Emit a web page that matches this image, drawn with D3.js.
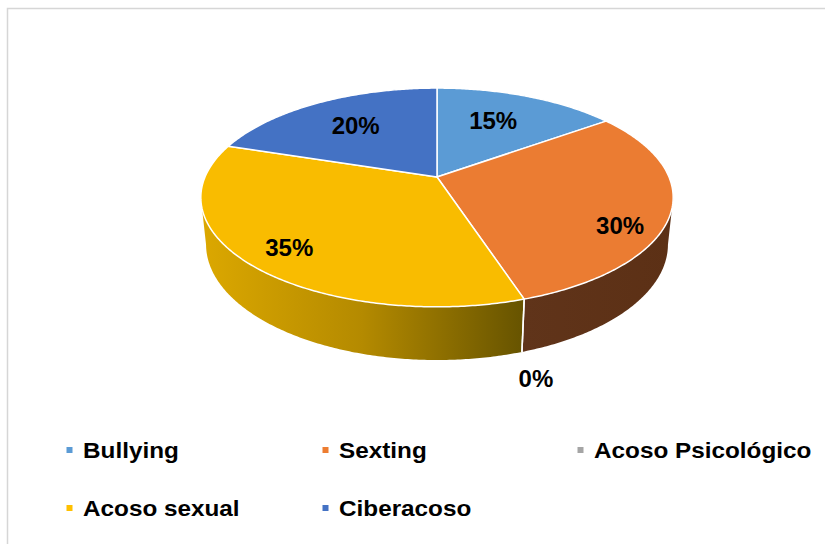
<!DOCTYPE html>
<html>
<head>
<meta charset="utf-8">
<script src="https://cdn.jsdelivr.net/npm/d3@7"></script>
<style>
  html, body { margin: 0; padding: 0; background: #ffffff; }
  svg { display: block; font-family: "Liberation Sans", Arial, sans-serif; }
</style>
</head>
<body>
<svg id="chart" width="825" height="544"></svg>
<script>
// ---- data ----
const categories = ["Bullying", "Sexting", "Acoso Psicológico", "Acoso sexual", "Ciberacoso"];
const percentages = [15, 30, 0, 35, 20];

// ---- styling ----
const topColors = ["#5B9BD5", "#EB7C32", "#A5A5A5", "#F9BC00", "#4472C4"];
const legendColors = ["#5B9BD5", "#ED7D31", "#A5A5A5", "#FFC000", "#4472C4"];
const wallStops = [
  ["#3f6f9a", "#2e5272"],
  ["#60341a", "#5c3015"],
  ["#7a7a7a", "#5a5a5a"],
  ["#dca800", "#b48a00", "#665300"],
  ["#30528c", "#243e6a"]
];
// label placement: radial fraction, depth (0 = top face, 1 = base), nudge
const labelLayout = [
  { r: 0.62, depth: 0, dx: -3, dy: -3.5 },
  { r: 0.80, depth: 0, dx: -2, dy: 20.5 },
  { r: 1.00, depth: 1, dx: 14, dy: 26 },
  { r: 0.80, depth: 0, dx: -1, dy: 4 },
  { r: 0.70, depth: 0, dx: 5, dy: 2 }
];

// ---- perspective view of the pie disc ----
const view = { cx: 437, cy: 177, S: 232, sinT: 0.455, cosT: 0.8905, k: 0.21, h: 0.2286 };

function project(a, r, Y) {
  const u = r * Math.sin(a), w = r * Math.cos(a);
  const z = 1 + view.k * (w * view.cosT - Y * view.sinT);
  return [view.cx + view.S * u / z, view.cy - view.S * (w * view.sinT + Y * view.cosT) / z];
}

function arcPoints(a0, a1, r, Y) {
  const n = Math.max(2, Math.ceil(Math.abs(a1 - a0) / 0.01));
  return d3.range(n + 1).map(i => project(a0 + (a1 - a0) * i / n, r, Y));
}

const svg = d3.select("#chart");
const defs = svg.append("defs");

// chart area frame
svg.append("rect")
  .attr("x", 7.5).attr("y", 8.5)
  .attr("width", 840).attr("height", 560)
  .attr("fill", "#ffffff")
  .attr("stroke", "#d6d6d6").attr("stroke-width", 1.5);

const pie = d3.pie().sort(null).value(d => d)(percentages);
const line = d3.line();

// side walls (only the front-facing part of the rim)
const visStart = Math.acos(-view.k * view.cosT);
const visEnd = 2 * Math.PI - visStart;
const wallG = svg.append("g");
pie.forEach((d, i) => {
  const a0 = Math.max(d.startAngle, visStart), a1 = Math.min(d.endAngle, visEnd);
  if (a1 - a0 <= 1e-6) return;
  const top = arcPoints(a0, a1, 1, 0);
  const bottom = arcPoints(a0, a1, 1, -view.h).reverse();
  const pts = top.concat(bottom);
  const xs = pts.map(p => p[0]);
  const gid = "wall" + i;
  const grad = defs.append("linearGradient").attr("id", gid)
    .attr("gradientUnits", "userSpaceOnUse")
    .attr("x1", d3.max(xs)).attr("x2", d3.min(xs)).attr("y1", 0).attr("y2", 0);
  const stops = wallStops[i];
  stops.forEach((c, j) => {
    grad.append("stop").attr("offset", j / (stops.length - 1)).attr("stop-color", stops[stops.length - 1 - j]);
  });
  wallG.append("path")
    .attr("d", line(pts) + "Z")
    .attr("fill", `url(#${gid})`);
});

// top faces
const topG = svg.append("g");
pie.forEach((d, i) => {
  if (d.endAngle - d.startAngle <= 1e-6) return;
  const pts = [project(0, 0, 0)].concat(arcPoints(d.startAngle, d.endAngle, 1, 0));
  topG.append("path")
    .attr("d", line(pts) + "Z")
    .attr("fill", topColors[i])
    .attr("stroke", "#ffffff")
    .attr("stroke-width", 1.5)
    .attr("stroke-linejoin", "round");
});

// vertical seams where slices meet on the visible rim
pie.forEach(d => {
  const a = d.startAngle;
  if (a > visStart && a < visEnd) {
    const p0 = project(a, 1, 0), p1 = project(a, 1, -view.h);
    svg.append("line")
      .attr("x1", p0[0]).attr("y1", p0[1]).attr("x2", p1[0]).attr("y2", p1[1])
      .attr("stroke", "#ffffff").attr("stroke-width", 1.5);
  }
});

// data labels
const labelG = svg.append("g");
pie.forEach((d, i) => {
  const L = labelLayout[i];
  const mid = (d.startAngle + d.endAngle) / 2;
  const p = project(mid, L.r, -view.h * L.depth);
  labelG.append("text")
    .attr("x", p[0] + L.dx).attr("y", p[1] + L.dy)
    .attr("dy", "0.36em")
    .attr("text-anchor", "middle")
    .attr("font-size", 24).attr("font-weight", "bold")
    .attr("fill", "#000000")
    .text(d.data + "%");
});

// legend
const legendCols = [66.5, 322.5, 577.5];
const legendRows = [450, 508];
const legendG = svg.append("g");
categories.forEach((c, i) => {
  const col = i % 3, row = Math.floor(i / 3);
  const x = legendCols[col], y = legendRows[row];
  legendG.append("rect")
    .attr("x", x).attr("y", y - 3)
    .attr("width", 6).attr("height", 6)
    .attr("fill", legendColors[i]);
  legendG.append("text")
    .attr("transform", `translate(${x + 16.5},${y + 7.5}) scale(1.13,1)`)
    .attr("font-size", 21.5).attr("font-weight", "bold")
    .attr("fill", "#000000")
    .text(c);
});
</script>
</body>
</html>
